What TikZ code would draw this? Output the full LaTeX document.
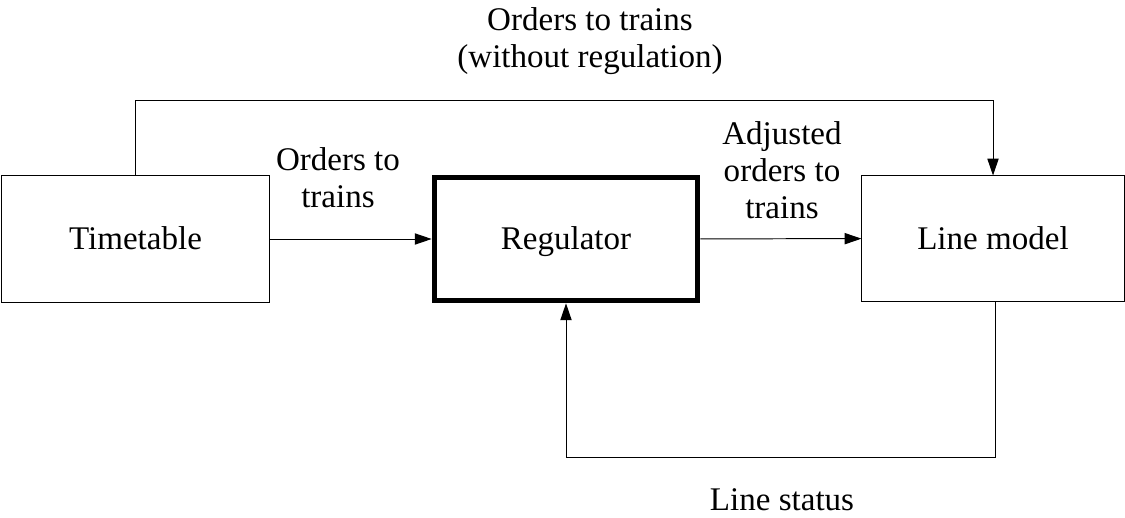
\documentclass[tikz,border=0pt]{standalone}
\usepackage{fontspec}
\setmainfont{Liberation Serif}
\usetikzlibrary{arrows.meta,positioning}

\begin{document}
\begin{tikzpicture}
%Regulation loop
	[
	 	 %Styles
       x=0.025cm, y=-0.025cm,
       font=\fontsize{23.5}{26.5}\selectfont,
       block_node/.style={rectangle,draw=black,line width=0.7pt,inner sep=0pt,text height=17pt,text depth=1.5pt},
		 main_node/.style={block_node,line width=4pt},
		 label_simple/.style={rectangle,align=center,inner sep=0pt},
		 flow/.style={line width=0.7pt,-{Triangle[length=12pt,width=8pt]}}
    ]
    \useasboundingbox (0,0) rectangle (1125,518);

    %Node placement
    \node (timetable) [block_node, minimum width=6.675cm, minimum height=3.15cm] at (135.5,239) {Timetable};
    \node (regulator) [main_node, minimum width=6.575cm, minimum height=3.075cm] at (566,239) {Regulator};
    \node (linemodel) [block_node, minimum width=6.55cm, minimum height=3.125cm] at (993,238.5) {Line model};

    %Corners
    \coordinate (topleft) at (135,100);
    \coordinate (topright) at (993,100);
    \coordinate (botright) at (995,457);
    \coordinate (botleft) at (566,457);

    %Labels
    \node (lbl_direct) [label_simple] at (590,41) {Orders to trains\\(without regulation)};
    \node (lbl_orders) [label_simple] at (338,178) {Orders to\\trains};
    \node (lbl_adjusted) [label_simple] at (782,170) {Adjusted\\orders to\\trains};
    \node (lbl_status) [label_simple] at (782,500) {Line status};

   %Edges
   \draw [flow] (timetable.north -| topleft) -- (topleft) -- (topright) -- (linemodel.north -| topright);
   \draw [flow] (timetable) -- (regulator);
   \draw [flow] (regulator) -- (linemodel);
   \draw [flow] (linemodel.south -| botright) -- (botright) -- (botleft) -- (regulator.south -| botleft);
\end{tikzpicture}
\end{document}
